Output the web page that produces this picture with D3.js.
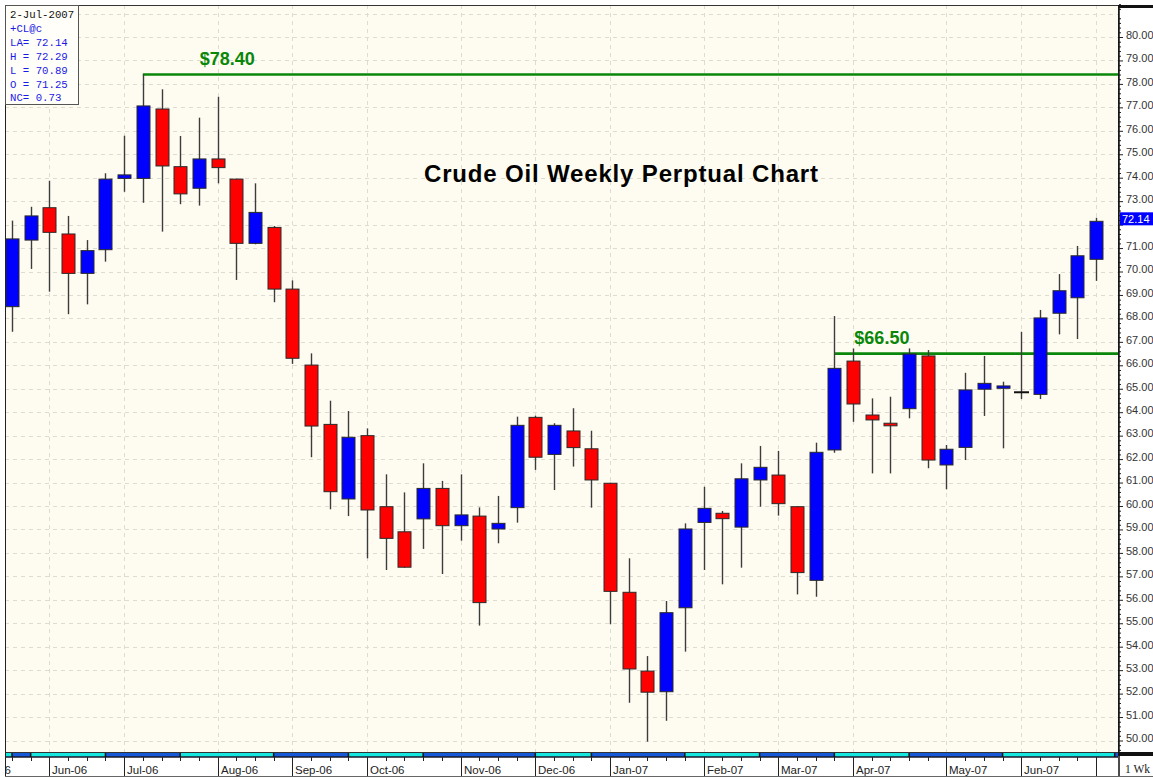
<!DOCTYPE html>
<html>
<head>
<meta charset="utf-8">
<script src="https://cdn.jsdelivr.net/npm/d3@7"></script>
<style>
  body { margin: 0; background: #fff; }
  svg { display: block; }
</style>
</head>
<body>
<div id="chart"></div>
<script>
//// data (weekly bars, CL perpetual)
var firstWeek = "2006-05-22", lastWeek = "2007-07-02";

var opens = [68.50, 71.34, 72.72, 71.60, 69.92, 70.93, 73.97, 73.97, 76.93, 74.47,
  73.55, 74.80, 73.94, 71.20, 71.88, 69.25, 66.01, 63.48, 60.30, 63.00,
  59.97, 58.90, 59.45, 60.75, 59.16, 59.57, 59.02, 59.93, 63.78, 62.20,
  63.20, 62.44, 60.97, 56.32, 52.96, 52.08, 55.66, 59.30, 59.69, 59.10,
  61.11, 61.32, 59.97, 56.83, 62.39, 66.18, 63.88, 63.53, 64.15, 66.40,
  61.75, 62.50, 64.98, 65.02, 64.85, 64.76, 68.22, 68.88, 70.52];

var highs = [72.17, 72.76, 73.87, 72.37, 71.34, 74.19, 75.79, 78.40, 77.77, 75.78,
  76.56, 77.45, 73.96, 73.76, 71.94, 69.62, 66.51, 64.49, 64.05, 63.31,
  61.35, 60.58, 61.82, 61.07, 61.35, 59.94, 60.43, 63.81, 63.85, 63.53,
  64.17, 63.21, 60.99, 57.77, 53.60, 55.95, 59.26, 60.82, 59.79, 61.82,
  62.56, 62.35, 59.99, 62.70, 68.10, 66.72, 64.59, 64.66, 66.72, 66.65,
  62.60, 65.68, 66.40, 65.30, 67.43, 68.36, 69.89, 71.09, 72.29];

var lows = [67.43, 70.11, 69.14, 68.18, 68.60, 70.42, 73.40, 72.93, 71.70, 72.87,
  72.81, 73.76, 69.64, 71.16, 68.69, 66.06, 62.08, 59.86, 59.57, 57.77,
  57.27, 57.37, 58.17, 57.10, 58.52, 54.90, 58.41, 59.29, 61.54, 60.68,
  61.68, 59.93, 54.96, 51.61, 49.95, 50.84, 53.79, 57.27, 56.66, 57.37,
  59.97, 59.59, 56.23, 56.13, 62.27, 63.59, 61.39, 61.39, 63.74, 61.61,
  60.71, 61.96, 63.84, 62.46, 64.56, 64.56, 67.32, 67.12, 69.60];

var closes = [71.39, 72.37, 71.67, 69.92, 70.89, 73.94, 74.12, 77.06, 74.50, 73.31,
  74.80, 74.43, 71.20, 72.52, 69.25, 66.30, 63.41, 60.61, 62.93, 59.83,
  58.62, 57.39, 60.75, 59.16, 59.62, 55.88, 59.26, 63.44, 62.08, 63.44,
  62.49, 61.11, 56.36, 53.05, 52.06, 55.45, 59.02, 59.90, 59.46, 61.16,
  61.65, 60.10, 57.16, 62.29, 65.87, 64.35, 63.67, 63.42, 66.48, 61.96,
  62.42, 64.95, 65.23, 65.12, 64.85, 68.02, 69.18, 70.67, 72.14];

// contract roll weeks (colour band under the chart)
var rolls = ["2006-05-22", "2006-05-29", "2006-06-26", "2006-07-24", "2006-08-28",
  "2006-09-25", "2006-10-23", "2006-12-04", "2006-12-25", "2007-01-29",
  "2007-02-26", "2007-03-26", "2007-04-23", "2007-05-28", "2007-07-09"];

// horizontal levels
var levelValues = [78.40, 66.50];
var levelFrom = ["2006-07-10", "2007-03-26"];
var levelLabels = ["$78.40", "$66.50"];

var priceTicks = d3.range(50, 81);
var lastPrice = 72.14;
var infoLines = ["2-Jul-2007", "+CL@c", "LA= 72.14", "H = 72.29", "L = 70.89", "O = 71.25", "NC= 0.73"];
var title = "Crude Oil Weekly Perptual Chart";

//// chart
var width = 1153, height = 777;
var plot = {left: 5, top: 5, right: 1118, bottom: 752};

var parse = d3.timeParse("%Y-%m-%d");
var weeks = d3.timeMonday.range(parse(firstWeek), d3.timeDay.offset(parse(lastWeek), 1));

var data = weeks.map(function (d, i) {
  return {date: d, o: opens[i], h: highs[i], l: lows[i], c: closes[i]};
});

var xScale = d3.scaleTime()
  .domain([weeks[0], weeks[weeks.length - 1]])
  .range([12, 1096]);

var yScale = d3.scaleLinear()
  .domain([50, 80])
  .range([740.5, 37]);

var svg = d3.select("#chart").append("svg")
  .attr("width", width)
  .attr("height", height)
  .style("font-family", "'Liberation Sans', Arial, sans-serif");

svg.append("rect").attr("width", width).attr("height", height).attr("fill", "#fff");

svg.append("defs").append("clipPath").attr("id", "clip")
  .append("rect")
  .attr("x", plot.left).attr("y", plot.top)
  .attr("width", plot.right - plot.left).attr("height", plot.bottom - plot.top);

// plot background
svg.append("rect")
  .attr("x", plot.left).attr("y", plot.top)
  .attr("width", plot.right - plot.left).attr("height", plot.bottom - plot.top)
  .attr("fill", "#fefcf0");

var g = svg.append("g").attr("clip-path", "url(#clip)");

// month starts = first week of each new month
var monthStarts = weeks.filter(function (d, i) {
  return i > 0 && d.getMonth() !== weeks[i - 1].getMonth();
});
var fmtMonth = d3.timeFormat("%b-%y");

//// grid
g.selectAll(".hgrid")
  .data(d3.range(50, 82))
  .enter().append("line")
  .attr("class", "hgrid")
  .attr("x1", plot.left).attr("x2", plot.right)
  .attr("y1", function (d) { return Math.round(yScale(d)) + 0.5; })
  .attr("y2", function (d) { return Math.round(yScale(d)) + 0.5; })
  .attr("stroke", "#dddbd2")
  .attr("stroke-dasharray", "4,4");

g.selectAll(".vgrid")
  .data(monthStarts)
  .enter().append("line")
  .attr("class", "vgrid")
  .attr("x1", function (d) { return Math.round(xScale(d)) + 0.5; })
  .attr("x2", function (d) { return Math.round(xScale(d)) + 0.5; })
  .attr("y1", plot.top).attr("y2", plot.bottom)
  .attr("stroke", "#dddbd2")
  .attr("stroke-dasharray", "4,4");

//// levels
levelValues.forEach(function (v, i) {
  var yy = yScale(v);
  g.append("line")
    .attr("x1", xScale(parse(levelFrom[i]))).attr("x2", plot.right)
    .attr("y1", yy).attr("y2", yy)
    .attr("stroke", "#0a870a")
    .attr("stroke-width", 2.6);
});
var labelDx = [57, 20];
levelValues.forEach(function (v, i) {
  svg.append("text")
    .attr("x", xScale(parse(levelFrom[i])) + labelDx[i])
    .attr("y", yScale(v) - 10)
    .attr("fill", "#0a870a")
    .attr("font-size", "18px")
    .attr("font-weight", "bold")
    .text(levelLabels[i]);
});

//// candles
g.selectAll(".wick")
  .data(data)
  .enter().append("line")
  .attr("class", "wick")
  .attr("x1", function (d) { return Math.round(xScale(d.date)) + 0.5; })
  .attr("x2", function (d) { return Math.round(xScale(d.date)) + 0.5; })
  .attr("y1", function (d) { return yScale(d.h); })
  .attr("y2", function (d) { return yScale(d.l); })
  .attr("stroke", "#3c3c3c")
  .attr("stroke-width", 1.4);

g.selectAll(".body")
  .data(data.filter(function (d) { return d.o !== d.c; }))
  .enter().append("rect")
  .attr("class", "body")
  .attr("x", function (d) { return Math.round(xScale(d.date)) - 6; })
  .attr("width", 13)
  .attr("y", function (d) { return yScale(Math.max(d.o, d.c)); })
  .attr("height", function (d) { return Math.max(2, Math.abs(yScale(d.o) - yScale(d.c))); })
  .attr("fill", function (d) { return d.c > d.o ? "#0000ff" : "#ff0000"; })
  .attr("stroke", "#2a2a2a")
  .attr("stroke-width", 1);

g.selectAll(".doji")
  .data(data.filter(function (d) { return d.o === d.c; }))
  .enter().append("line")
  .attr("class", "doji")
  .attr("x1", function (d) { return Math.round(xScale(d.date)) - 7; })
  .attr("x2", function (d) { return Math.round(xScale(d.date)) + 8; })
  .attr("y1", function (d) { return yScale(d.c); })
  .attr("y2", function (d) { return yScale(d.c); })
  .attr("stroke", "#111")
  .attr("stroke-width", 2);

//// title
svg.append("text")
  .attr("x", 621).attr("y", 182)
  .attr("text-anchor", "middle")
  .attr("font-size", "24px")
  .attr("font-weight", "bold")
  .attr("fill", "#000")
  .attr("textLength", 394)
  .attr("lengthAdjust", "spacing")
  .text(title);

//// contract band
var bounds = [plot.left].concat(rolls.map(function (r) { return xScale(parse(r)); }), [plot.right]);
var segs = d3.pairs(bounds);
svg.selectAll(".band")
  .data(segs)
  .enter().append("rect")
  .attr("class", "band")
  .attr("x", function (d) { return d[0]; })
  .attr("width", function (d) { return Math.min(d[1], plot.right) - d[0]; })
  .attr("y", 752).attr("height", 5)
  .attr("fill", function (d, i) { return i % 2 === 0 ? "#14e6e0" : "#1558d8"; });
svg.append("line").attr("x1", plot.left).attr("x2", plot.right).attr("y1", 752.5).attr("y2", 752.5).attr("stroke", "#1a1a2a");
svg.append("line").attr("x1", plot.left).attr("x2", plot.right).attr("y1", 757).attr("y2", 757).attr("stroke", "#1a1a2a").attr("stroke-width", 1.5);
svg.selectAll(".bandsep")
  .data(bounds.slice(1, -1))
  .enter().append("line")
  .attr("x1", function (d) { return d; }).attr("x2", function (d) { return d; })
  .attr("y1", 752).attr("y2", 757)
  .attr("stroke", "#111").attr("stroke-width", 1.5);

//// bottom axis
svg.selectAll(".wtick")
  .data(weeks)
  .enter().append("line")
  .attr("x1", function (d) { return Math.round(xScale(d)) + 0.5; })
  .attr("x2", function (d) { return Math.round(xScale(d)) + 0.5; })
  .attr("y1", 757).attr("y2", 761)
  .attr("stroke", "#222");

svg.selectAll(".mtick")
  .data(monthStarts)
  .enter().append("line")
  .attr("x1", function (d) { return Math.round(xScale(d)) + 0.5; })
  .attr("x2", function (d) { return Math.round(xScale(d)) + 0.5; })
  .attr("y1", 757).attr("y2", 777)
  .attr("stroke", "#222");

svg.selectAll(".mlabel")
  .data(monthStarts.filter(function (d) { return xScale(d) < 1080; }))
  .enter().append("text")
  .attr("x", function (d) { return Math.round(xScale(d)) + 3; })
  .attr("y", 773.5)
  .attr("font-size", "11.5px")
  .attr("fill", "#222")
  .text(function (d) { return fmtMonth(d); });

// the month cut off at the left edge
svg.append("text")
  .attr("x", 11).attr("y", 773.5)
  .attr("text-anchor", "end")
  .attr("font-size", "11.5px")
  .attr("fill", "#222")
  .text(fmtMonth(weeks[0]));

svg.append("rect").attr("x", 0).attr("y", 757).attr("width", plot.left).attr("height", 20).attr("fill", "#fff");

//// right axis
svg.append("rect").attr("x", plot.right).attr("y", plot.top).attr("width", width - plot.right).attr("height", plot.bottom - plot.top).attr("fill", "#fff");

var minor = d3.range(496, 815, 2).map(function (v) { return v / 10; }).filter(function (v) { return Math.abs(v - Math.round(v)) > 0.01; });
svg.append("g")
  .attr("transform", "translate(" + (plot.right + 1) + ",0)")
  .call(d3.axisRight(yScale).tickValues(minor).tickSize(2).tickFormat(""))
  .call(function (a) { a.select(".domain").remove(); a.selectAll("line").attr("stroke", "#222"); });

// the label under the last price box is hidden by it
var yAxis = svg.append("g")
  .attr("transform", "translate(" + (plot.right + 1) + ",0)")
  .call(d3.axisRight(yScale).tickValues(priceTicks).tickSize(4).tickPadding(3)
    .tickFormat(function (d) { return Math.abs(d - lastPrice) < 0.5 ? "" : d3.format(".2f")(d); }));
yAxis.select(".domain").remove();
yAxis.selectAll("line").attr("stroke", "#222");
yAxis.selectAll("text")
  .attr("dy", "0.12em")
  .attr("font-size", "11px")
  .attr("font-family", "'Liberation Sans', Arial, sans-serif")
  .attr("fill", "#333");

// last price marker
var lp = svg.append("g");
lp.append("rect")
  .attr("x", plot.right + 2).attr("y", yScale(lastPrice) - 9)
  .attr("width", width - plot.right - 2).attr("height", 13)
  .attr("fill", "#0000ff");
lp.append("text")
  .attr("x", plot.right + 4).attr("y", yScale(lastPrice) + 1.5)
  .attr("font-size", "11px")
  .attr("fill", "#fff")
  .text(d3.format(".2f")(lastPrice));

//// frame
svg.append("rect")
  .attr("x", plot.left + 0.5).attr("y", plot.top + 0.5)
  .attr("width", plot.right - plot.left).attr("height", plot.bottom - plot.top)
  .attr("fill", "none").attr("stroke", "#333");
svg.append("line").attr("x1", plot.right + 1).attr("x2", plot.right + 1).attr("y1", plot.top).attr("y2", height).attr("stroke", "#111").attr("stroke-width", 1.5);
svg.append("line").attr("x1", plot.left + 0.5).attr("x2", plot.left + 0.5).attr("y1", plot.top).attr("y2", height).attr("stroke", "#222");
svg.append("rect").attr("x", plot.right).attr("y", plot.top).attr("width", width - plot.right).attr("height", 3).attr("fill", "#111");
svg.append("rect").attr("x", plot.right).attr("y", 752).attr("width", width - plot.right).attr("height", 4).attr("fill", "#111");
svg.append("line").attr("x1", plot.left).attr("x2", width).attr("y1", 776.5).attr("y2", 776.5).attr("stroke", "#666");

svg.append("text")
  .attr("x", 1125).attr("y", 772.5)
  .attr("font-family", "'Liberation Serif', 'Times New Roman', serif")
  .attr("font-size", "11.5px")
  .attr("fill", "#222")
  .text("1 Wk");

//// info box
var info = svg.append("g");
info.append("rect")
  .attr("x", 5.5).attr("y", 5.5).attr("width", 73).attr("height", 99)
  .attr("fill", "#fffef8").attr("stroke", "#555");
info.selectAll("text")
  .data(infoLines)
  .enter().append("text")
  .attr("x", 10)
  .attr("y", function (d, i) { return 18 + i * 13.9; })
  .attr("font-family", "'Liberation Mono', 'Courier New', monospace")
  .attr("font-size", "10.7px")
  .attr("fill", function (d, i) { return i === 0 ? "#111" : "#1a1ae6"; })
  .text(function (d) { return d; });
</script>
</body>
</html>
